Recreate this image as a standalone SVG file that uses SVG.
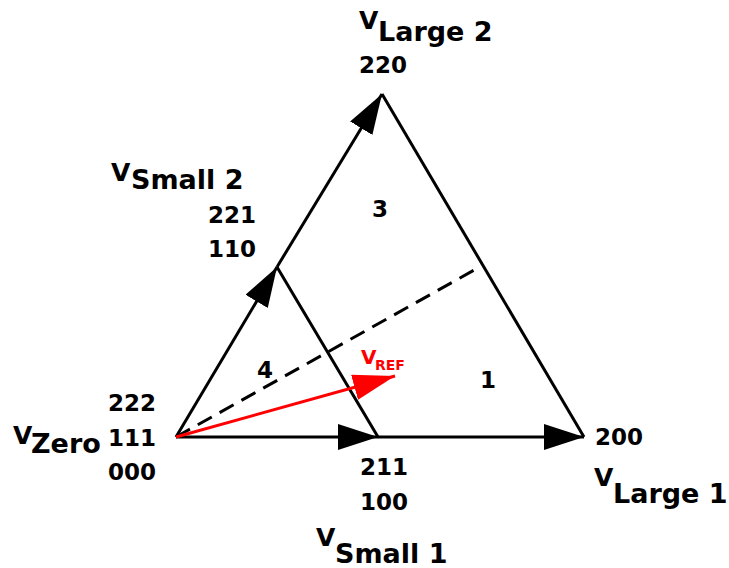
<svg xmlns="http://www.w3.org/2000/svg" width="729" height="568" viewBox="0 0 729 568">
<style>
.t{font-family:"DejaVu Sans",sans-serif;font-weight:bold;fill:#000}
.v{font-size:25px}
.lbl{font-size:27px}
.num{font-size:23px}
.ln{stroke:#000;stroke-width:3;fill:none}
.red{fill:#FF0000}
</style>
<defs>
<marker id="ah" markerUnits="userSpaceOnUse" markerWidth="42" markerHeight="28" refX="40" refY="13" orient="auto">
<path d="M0,0 L40,13 L0,26 z" fill="#000"/>
</marker>
<marker id="ahr" markerUnits="userSpaceOnUse" markerWidth="44" markerHeight="28" refX="42" refY="13" orient="auto">
<path d="M0,0 L42,13 L0,26 z" fill="#FF0000"/>
</marker>
</defs>
<rect width="729" height="568" fill="#fff"/>
<g id="connectors">
<line class="ln" x1="176" y1="437" x2="378" y2="437" marker-end="url(#ah)"/>
<line class="ln" x1="378" y1="437" x2="584" y2="437" marker-end="url(#ah)"/>
<line class="ln" x1="176" y1="437" x2="277" y2="267" marker-end="url(#ah)"/>
<line class="ln" x1="277" y1="267" x2="382" y2="94" marker-end="url(#ah)"/>
<line class="ln" x1="382" y1="94" x2="584" y2="437"/>
<line class="ln" x1="277" y1="267" x2="378" y2="437"/>
<line class="ln" x1="176" y1="437" x2="476" y2="269" stroke-dasharray="16,9"/>
<line x1="176" y1="437" x2="395" y2="376" stroke="#FF0000" stroke-width="3" marker-end="url(#ahr)"/>
</g>
<g id="vLarge2">
<text class="t v" x="359" y="29">V</text>
<text class="t lbl" x="378" y="41">Large 2</text>
<text class="t num" x="359" y="73">220</text>
</g>
<g id="vSmall2">
<text class="t v" x="111" y="181">V</text>
<text class="t lbl" x="131" y="189">Small 2</text>
<text class="t num" x="208" y="223">221</text>
<text class="t num" x="208" y="257">110</text>
</g>
<g id="vZero">
<text class="t v" x="13" y="444">V</text>
<text class="t lbl" x="31" y="453" font-size="26">Zero</text>
<text class="t num" x="108" y="411">222</text>
<text class="t num" x="108" y="446">111</text>
<text class="t num" x="108" y="480">000</text>
</g>
<g id="vSmall1">
<text class="t num" x="360" y="475">211</text>
<text class="t num" x="360" y="510">100</text>
<text class="t v" x="316" y="546">V</text>
<text class="t lbl" x="335" y="563">Small 1</text>
</g>
<g id="vLarge1">
<text class="t num" x="595" y="445">200</text>
<text class="t v" x="594" y="486">V</text>
<text class="t lbl" x="613" y="503" font-size="26">Large 1</text>
</g>
<g id="sectors">
<text class="t num" x="372" y="217">3</text>
<text class="t num" x="257" y="378">4</text>
<text class="t num" x="480" y="388">1</text>
</g>
<g id="vRef">
<text class="t red" x="361" y="364" font-size="20">V</text>
<text class="t red" x="375" y="370" font-size="14">REF</text>
</g>
</svg>
